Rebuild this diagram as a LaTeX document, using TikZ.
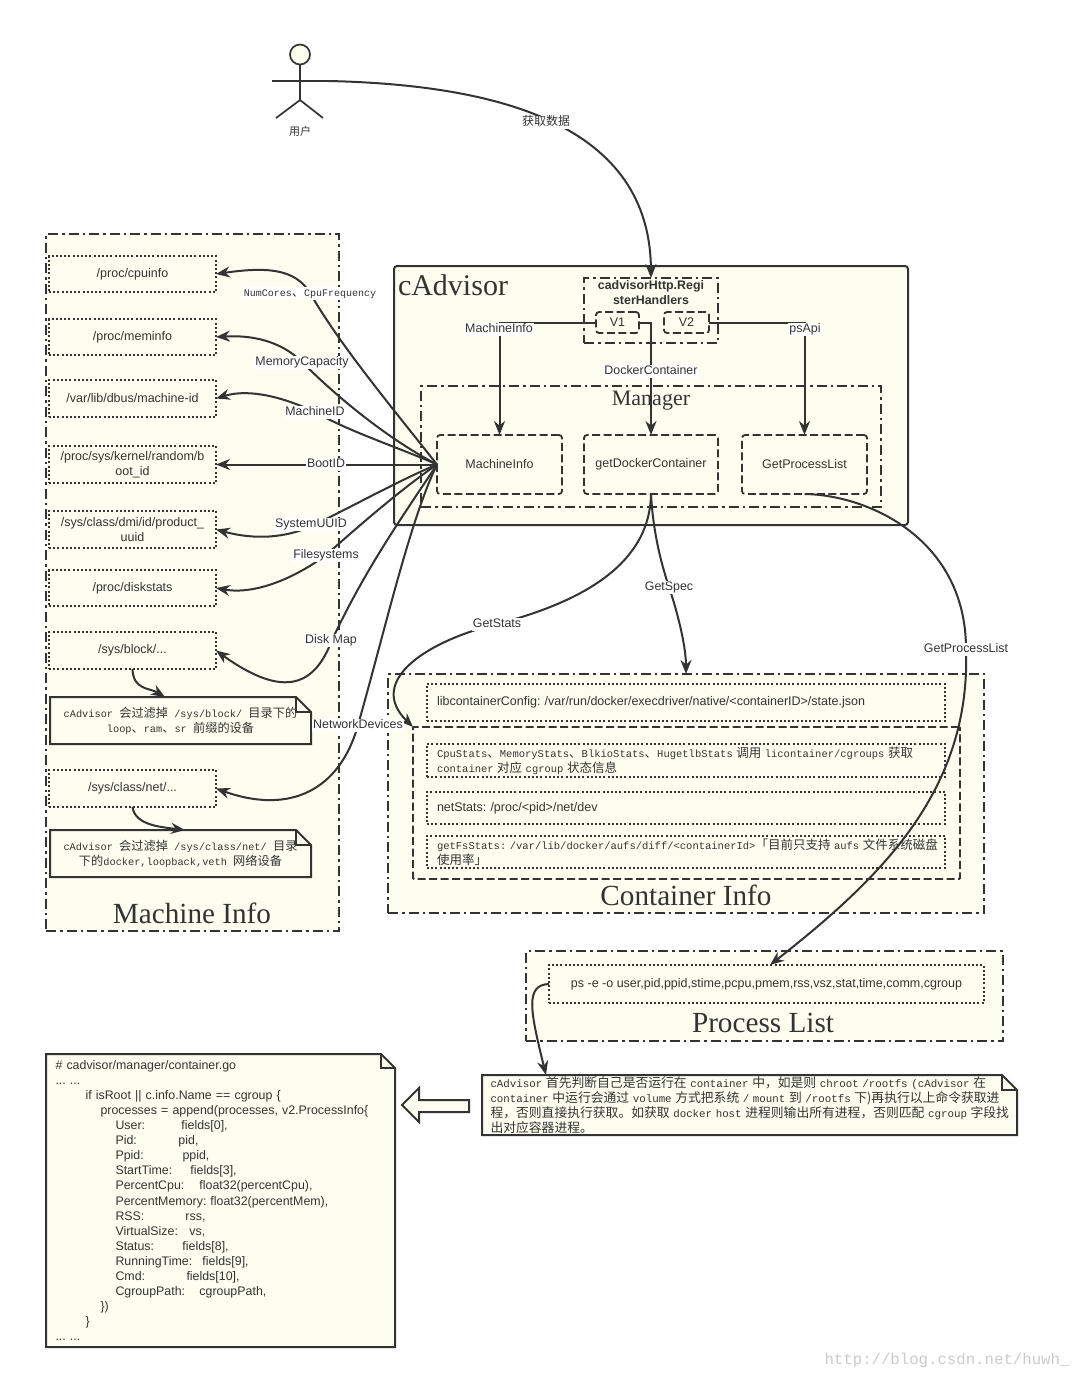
\documentclass[tikz,border=0pt]{standalone}
\usepackage{fontspec}
\setmainfont{Liberation Sans}
\setmonofont{Liberation Mono}
\newfontfamily\serifttl{Liberation Serif}
\newfontfamily\cjk{Noto Sans CJK SC}
\newcommand\zhs{12.2}
\newcommand\zh[1]{{\cjk\fontsize{\zhs}{15}\selectfont #1}}
\usetikzlibrary{arrows.meta}
\definecolor{ink}{HTML}{333333}
\definecolor{pale}{HTML}{FDFEF0}
\tikzset{
  base/.style={draw=ink,fill=pale,text=ink,inner sep=0pt,outer sep=0pt,align=center,font=\fontsize{12.5}{15}\selectfont},
  dashdotbox/.style={base,line width=1.7pt,dash pattern=on 10pt off 4pt on 2.5pt off 4pt},
  dotbox/.style={base,line width=1.9pt,dash pattern=on 2pt off 2.2pt},
  dashbox/.style={base,line width=1.8pt,dash pattern=on 8pt off 3.5pt,rounded corners=3pt},
  solidbox/.style={base,line width=2pt,rounded corners=3pt},
  notepoly/.style={draw=ink,fill=pale,line width=2pt,line join=miter},
  notefold/.style={draw=ink,line width=2pt},
  notetext/.style={text=ink,inner sep=0pt,outer sep=0pt,align=center,font=\ttfamily\fontsize{10.3}{15}\selectfont},
  ttl/.style={text=ink,inner sep=0pt,font=\serifttl\fontsize{29.2}{32}\selectfont},
  ttlbig/.style={text=ink,inner sep=0pt,font=\serifttl\fontsize{30}{32}\selectfont},
  ttlsmall/.style={text=ink,inner sep=0pt,font=\serifttl\fontsize{22}{24}\selectfont},
  lab/.style={fill=white,text=ink,inner xsep=1pt,inner ysep=0pt,text height=10pt,text depth=3pt,font=\fontsize{12.4}{14}\selectfont},
  monolab/.style={lab,font=\ttfamily\fontsize{10}{14}\selectfont},
  conn/.style={draw=ink,line width=2pt,-{Stealth[length=14pt,width=11pt]}},
  actorline/.style={draw=ink,line width=1.7pt},
  tt10/.style={font=\ttfamily\fontsize{10.5}{15}\selectfont\renewcommand\zhs{12.5}},
  tt11/.style={font=\ttfamily\fontsize{10.8}{15}\selectfont\renewcommand\zhs{12.8}},
}
\newcommand\bx[7]{%
  \pgfmathsetmacro\bxw{#5-#3}\pgfmathsetmacro\bxh{#6-#4}%
  \pgfmathsetmacro\bxx{(#3+#5)/2}\pgfmathsetmacro\bxy{(#4+#6)/2}%
  \node[#1,minimum width=\bxw pt,minimum height=\bxh pt] (#2) at (\bxx,\bxy) {#7};}
% style, name, x1,y1,x2,y2, fold, text
\newcommand\nt[8]{%
  \pgfmathsetmacro\fx{#5-#7}\pgfmathsetmacro\fy{#4+#7}%
  \path[notepoly] (#3,#4) -- (\fx,#4) -- (#5,\fy) -- (#5,#6) -- (#3,#6) -- cycle;
  \draw[notefold] (\fx,#4) -- (\fx,\fy) -- (#5,\fy);
  \bx{notetext,#1}{#2}{#3}{#4}{#5}{#6}{#8}}
\newcommand\cl[2]{\makebox[#1pt][l]{#2}}
\begin{document}
\frenchspacing
\begin{tikzpicture}[x=1pt,y=-1pt]
\useasboundingbox (0,0) rectangle (1080,1377);
\fill[white] (0,0) rectangle (1080,1377);

% actor
\node[draw=ink,fill=pale,line width=1.7pt,circle,minimum size=20pt,inner sep=0pt] (acthead) at (300,54.5) {};
\coordinate (acthip) at (300,100);
\coordinate (actl) at (272,81);
\coordinate (actr) at (329,81);
\coordinate (actfl) at (276,118);
\coordinate (actfr) at (323,118);
\draw[actorline] (acthead.south) -- (acthip);
\draw[actorline] (actl) -- (actr);
\draw[actorline] (actfl) -- (acthip) -- (actfr);
\node[text=ink,inner sep=0pt,font=\cjk\fontsize{11}{12}\selectfont] (actname) at (300,131) {用户};

% Machine Info
\bx{dashdotbox}{machine}{46}{234}{339}{931}{}
\bx{dotbox}{cpu}{49}{256}{216}{292}{/proc/cpuinfo}
\bx{dotbox}{mem}{49}{319}{216}{355}{/proc/meminfo}
\bx{dotbox}{mid}{49}{380}{216}{417}{/var/lib/dbus/machine-id}
\bx{dotbox}{boot}{49}{446}{216}{483}{/proc/sys/kernel/random/b\\oot\_id}
\bx{dotbox}{uuid}{49}{511}{216}{548}{/sys/class/dmi/id/product\_\\uuid}
\bx{dotbox}{disk}{49}{570}{216}{606}{/proc/diskstats}
\bx{dotbox}{block}{49}{632}{216}{669}{/sys/block/...}
\bx{dotbox}{net}{49}{770}{216}{807}{/sys/class/net/...}
\nt{}{note1}{50}{697}{311}{744}{15}{\mbox{cAdvisor \zh{会过滤掉} /sys/block/ \zh{目录下的}}\\loop\zh{、}ram\zh{、}sr \zh{前缀的设备}}
\nt{}{note2}{50}{830}{311}{877}{15}{\mbox{cAdvisor \zh{会过滤掉} /sys/class/net/ \zh{目录}}\\\zh{下的}docker,loopback,veth \zh{网络设备}}
\node[ttl] (machinettl) at (192,913) {Machine Info};

% cAdvisor
\bx{solidbox}{cadv}{394}{266}{908}{525}{}
\node[ttlbig] (cadvttl) at (453,285) {cAdvisor};
\bx{dashdotbox}{http}{584}{278}{718}{343}{}
\node[text=ink,inner sep=0pt,align=center,font=\bfseries\fontsize{12.4}{15}\selectfont] (httplab) at (651,293) {cadvisorHttp.Regi\\sterHandlers};
\bx{dashbox}{vone}{596}{312}{639}{333}{V1}
\bx{dashbox}{vtwo}{664}{312}{709}{333}{V2}
\bx{dashdotbox}{manager}{421}{386}{881}{507}{}
\node[ttlsmall] (managerttl) at (651,401) {Manager};
\bx{dashbox}{mi}{437}{435}{562}{494}{MachineInfo}
\bx{dashbox}{dock}{584}{435}{718}{494}{getDockerContainer}
\bx{dashbox}{gpl}{742}{435}{867}{494}{GetProcessList}

% Container Info
\bx{dashdotbox}{cont}{388}{674}{984}{913}{}
\bx{dotbox,text width=498pt,align=left}{lib}{427}{684}{945}{721}{libcontainerConfig: /var/run/docker/execdriver/native/<containerID>/state.json}
\bx{dashbox,rounded corners=1pt}{stats}{413}{727}{960}{879}{}
\bx{dotbox,text width=498pt,align=left,tt10}{cg}{427}{744}{945}{777}{\mbox{CpuStats\zh{、}MemoryStats\zh{、}BlkioStats\zh{、}HugetlbStats \zh{调用} licontainer/cgroups \zh{获取}}\\container \zh{对应} cgroup \zh{状态信息}}
\bx{dotbox,text width=498pt,align=left}{ns}{427}{792}{945}{824}{netStats: /proc/<pid>/net/dev}
\bx{dotbox,text width=498pt,align=left,tt10}{fs}{427}{836}{945}{868}{\mbox{getFsStats: /var/lib/docker/aufs/diff/<containerId>\zh{「目前只支持} aufs \zh{文件系统磁盘}}\\\zh{使用率」}}
\node[ttl] (contttl) at (686,895) {Container Info};

% Process List
\bx{dashdotbox}{plist}{526}{951}{1003}{1041}{}
\bx{dotbox}{ps}{549}{965}{984}{1003}{ps -e -o user,pid,ppid,stime,pcpu,pmem,rss,vsz,stat,time,comm,cgroup}
\node[ttl] (plistttl) at (763,1023) {Process List};

% notes bottom
\nt{text width=518pt,align=left,tt11}{note3}{482}{1075}{1017}{1135}{15}{\mbox{cAdvisor \zh{首先判断自己是否运行在} container \zh{中，如是则} chroot /rootfs (cAdvisor \zh{在}}\\\mbox{container \zh{中运行会通过} volume \zh{方式把系统} / mount \zh{到} /rootfs \zh{下)再执行以上命令获取进}}\\\mbox{\zh{程，否则直接执行获取。如获取} docker host \zh{进程则输出所有进程，否则匹配} cgroup \zh{字段找}}\\\zh{出对应容器进程。}}
\nt{text width=330pt,align=left,font=\rmfamily\fontsize{12.4}{15.1}\selectfont}{code}{46}{1054}{395}{1347}{14}{\#\ cadvisor/manager/container.go\\
... ...\\
\hspace*{30pt}if isRoot || c.info.Name == cgroup \{\\
\hspace*{45pt}processes = append(processes, v2.ProcessInfo\{\\
\hspace*{60pt}\cl{66}{User:}fields[0],\\
\hspace*{60pt}\cl{63}{Pid:}pid,\\
\hspace*{60pt}\cl{67}{Ppid:}ppid,\\
\hspace*{60pt}\cl{75}{StartTime:}fields[3],\\
\hspace*{60pt}\cl{84}{PercentCpu:}float32(percentCpu),\\
\hspace*{60pt}\cl{95}{PercentMemory:}float32(percentMem),\\
\hspace*{60pt}\cl{70}{RSS:}rss,\\
\hspace*{60pt}\cl{74}{VirtualSize:}vs,\\
\hspace*{60pt}\cl{67}{Status:}fields[8],\\
\hspace*{60pt}\cl{87}{RunningTime:}fields[9],\\
\hspace*{60pt}\cl{71}{Cmd:}fields[10],\\
\hspace*{60pt}\cl{84}{CgroupPath:}cgroupPath,\\
\hspace*{45pt}\})\\
\hspace*{30pt}\}\\
... ...}
\draw[draw=ink,fill=pale,line width=2pt] (469,1100) -- (419,1100) -- (419,1088) -- (402,1105) -- (419,1122) -- (419,1112) -- (469,1112) -- cycle;

% connectors
\draw[conn] (actr) .. controls (500,85) and (650,125) .. (http.north);
\draw[conn] (mi.west) .. controls (390,405) and (340,345) .. (310,293) .. controls (295,268) and (265,267) .. (cpu.east);
\draw[conn] (mi.west) .. controls (390,440) and (340,400) .. (302,362) .. controls (280,340) and (250,335) .. (mem.east);
\draw[conn] (mi.west) .. controls (400,448) and (350,432) .. (315,412) .. controls (285,398) and (250,388) .. (mid.east);
\draw[conn] (mi.west) -- (boot.east);
\draw[conn] (mi.west) .. controls (400,480) and (355,505) .. (312,526) .. controls (285,538) and (255,540) .. (uuid.east);
\draw[conn] (mi.west) .. controls (400,490) and (360,525) .. (326,555) .. controls (295,578) and (255,595) .. (disk.east);
\draw[conn] (mi.west) .. controls (400,520) and (365,570) .. (332,640) .. controls (315,685) and (285,700) .. (block.east);
\draw[conn] (mi.west) .. controls (410,520) and (385,630) .. (358,725) .. controls (340,790) and (290,815) .. (net.east);
\draw[conn] (block.south) .. controls (133,690) and (150,688) .. (note1.north -| 165,0);
\draw[conn] (net.south) .. controls (135,825) and (160,827) .. (note2.north -| 185,0);
\draw[conn] (vone.west) -| (mi.north);
\draw[conn] (vone.east) -| (dock.north);
\draw[conn] (vtwo.east) -| (gpl.north);
\draw[conn] (dock.south) .. controls (650,560) and (590,600) .. (497,624) .. controls (430,640) and (365,680) .. (stats.north west);
\draw[conn] (dock.south) .. controls (653,530) and (660,560) .. (669,587) .. controls (680,620) and (686,650) .. (cont.north -| lib.north);
\draw[conn] (gpl.south) .. controls (870,495) and (966,540) .. (966,649) .. controls (971,790) and (882,877) .. (ps.north -| 770,0);
\draw[conn] (ps.west) .. controls (525,985) and (530,1010) .. (note3.north -| 546,0);

% connector labels
\node[lab,font=\cjk\fontsize{12}{14}\selectfont] (lget) at (546,122) {获取数据};
\node[monolab] (l1) at (310,293) {NumCores\zh{、}CpuFrequency};
\node[lab] (l2) at (302,362) {MemoryCapacity};
\node[lab] (l3) at (315,412) {MachineID};
\node[lab] (l4) at (326,464) {BootID};
\node[lab] (l5) at (311,524) {SystemUUID};
\node[lab] (l6) at (326,555) {Filesystems};
\node[lab] (l7) at (331,640) {Disk Map};
\node[lab] (l8) at (358,725) {NetworkDevices};
\node[lab] (l9) at (499,329) {MachineInfo};
\node[lab] (l10) at (651,371) {DockerContainer};
\node[lab] (l11) at (805,329) {psApi};
\node[lab] (l12) at (497,624) {GetStats};
\node[lab] (l13) at (669,587) {GetSpec};
\node[lab] (l14) at (966,649) {GetProcessList};

\node[text=black!20,inner sep=0pt,font=\ttfamily\fontsize{15.7}{18}\selectfont] (wm) at (947,1360) {http://blog.csdn.net/huwh\_};
\end{tikzpicture}
\end{document}
